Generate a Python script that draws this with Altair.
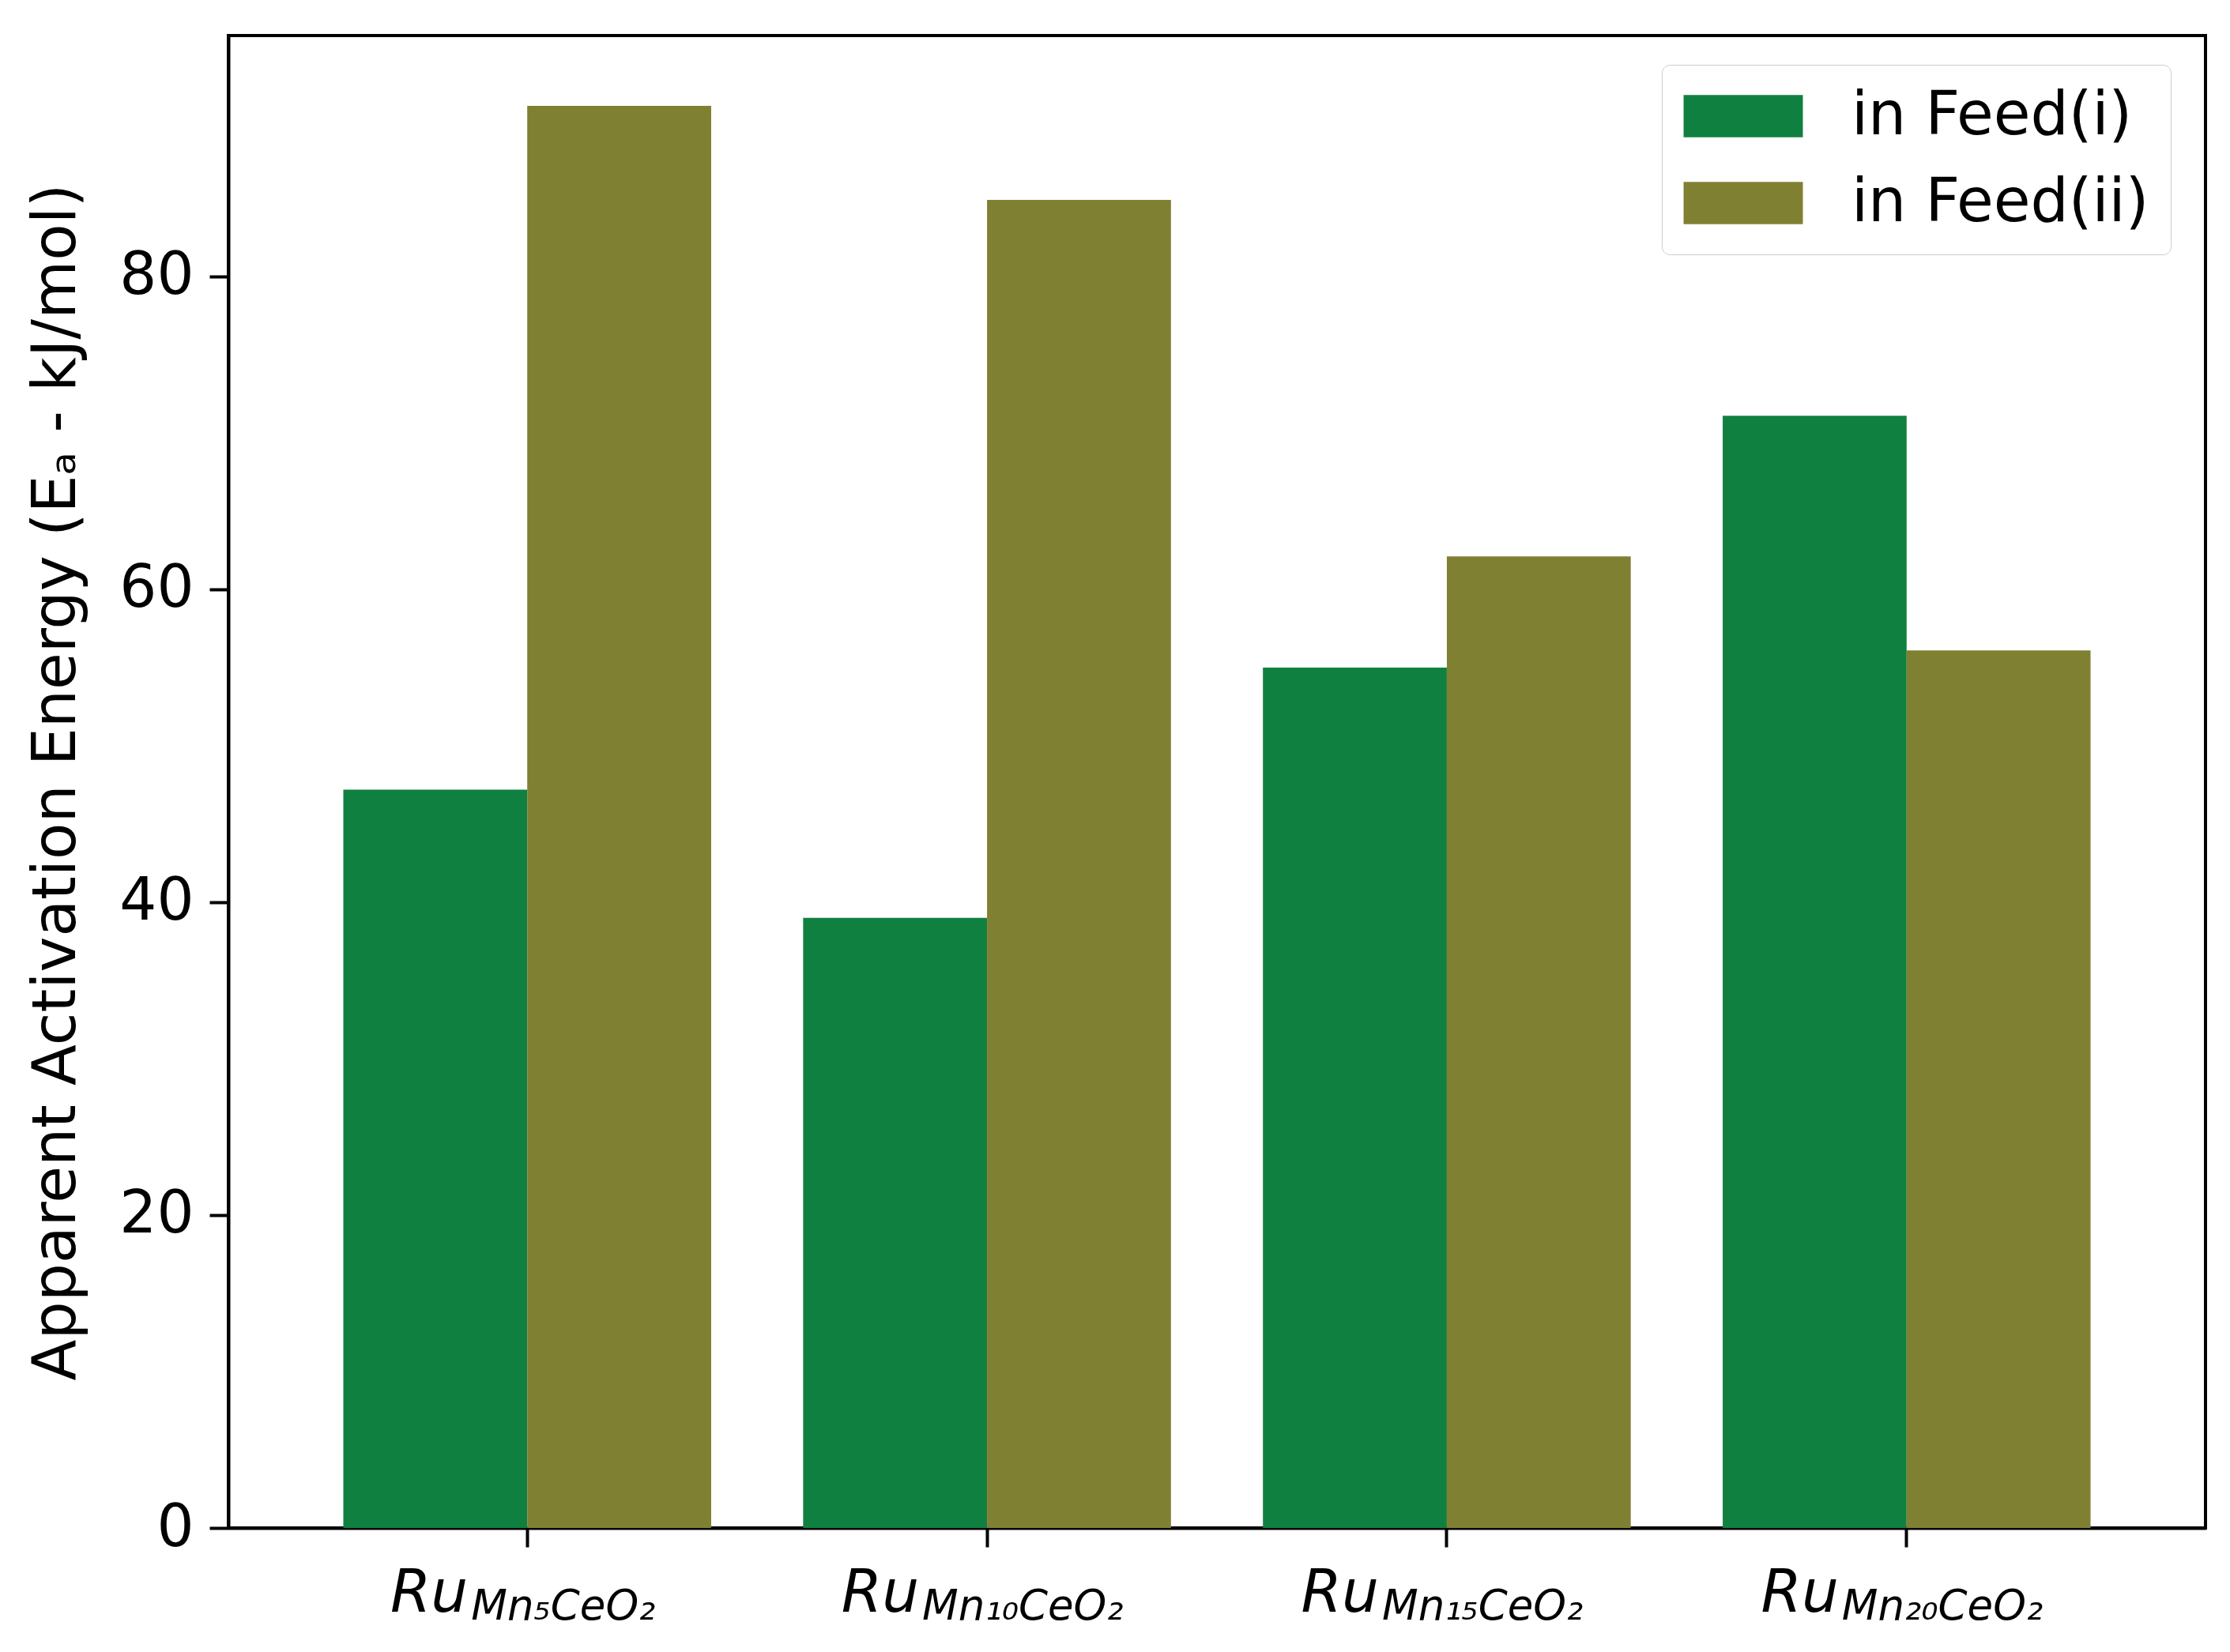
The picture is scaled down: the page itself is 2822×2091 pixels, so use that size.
import altair as alt
import pandas as pd

# ---- data ----
catalysts = ["Mn5", "Mn10", "Mn15", "Mn20"]
label_main = ["Ru", "Ru", "Ru", "Ru"]
label_sub = ["Mn₅CeO₂", "Mn₁₀CeO₂", "Mn₁₅CeO₂", "Mn₂₀CeO₂"]
label_wide = [0, 1, 1, 1]
series = ["in Feed(i)", "in Feed(ii)"]
feed_i = [47.2, 39.0, 55.0, 71.1]
feed_ii = [90.9, 84.9, 62.1, 56.1]
colors = ["#108040", "#808033"]
y_ticks = [0, 20, 40, 60, 80]
y_title = "Apparent Activation Energy (Eₐ - kJ/mol)"

rows = []
for c, a, b in zip(catalysts, feed_i, feed_ii):
    rows.append({"catalyst": c, "series": series[0], "value": a})
    rows.append({"catalyst": c, "series": series[1], "value": b})
df = pd.DataFrame(rows)

lab = pd.DataFrame({"catalyst": catalysts, "ru": label_main,
                    "sub": label_sub, "wide": label_wide})

FONT = "DejaVu Sans"
FS = 74
W, H = 2502, 1889

x_enc = alt.X(
    "catalyst:N",
    sort=catalysts,
    scale=alt.Scale(paddingInner=0.2, paddingOuter=0.25),
    axis=alt.Axis(labels=False, title=None, ticks=True, tickSize=24,
                  tickWidth=4, tickColor="black", domainColor="black",
                  domainWidth=4),
)

bars = alt.Chart(df).mark_bar().encode(
    x=x_enc,
    xOffset=alt.XOffset("series:N", sort=series,
                        scale=alt.Scale(paddingInner=0, paddingOuter=0)),
    y=alt.Y(
        "value:Q",
        scale=alt.Scale(domain=[0, 95.4], nice=False, zero=True),
        axis=alt.Axis(
            values=y_ticks, grid=False, title=y_title,
            titleFontSize=76, titleFontWeight="normal", titleColor="black",
            titleFont=FONT, titlePadding=40,
            labelFontSize=FS, labelFont=FONT, labelColor="black",
            labelPadding=20, tickSize=24, tickWidth=4, tickColor="black",
            domainColor="black", domainWidth=4,
        ),
    ),
    color=alt.Color(
        "series:N",
        sort=series,
        scale=alt.Scale(domain=series, range=colors),
        legend=alt.Legend(
            orient="none", legendX=1814, legendY=37, title=None,
            symbolType="M-2.04,-0.72H2.04V0.72H-2.04Z", symbolSize=5476,
            symbolOffset=38, symbolStrokeWidth=0, symbolOpacity=1,
            labelFontSize=76, labelFont=FONT, labelColor="black",
            labelLimit=800, labelOffset=99, rowPadding=34, padding=27,
            strokeColor="#cccccc", fillColor="white",
            cornerRadius=10,
        ),
    ),
)

def label_layers(wide, dx_ru):
    base = alt.Chart(lab).transform_filter(alt.datum.wide == wide)
    ru = base.mark_text(align="right", baseline="alphabetic", dx=dx_ru,
                        fontSize=FS, fontStyle="italic", font=FONT,
                        color="black").encode(
        x=alt.X("catalyst:N", sort=catalysts), y=alt.value(1995), text="ru:N")
    sub = base.mark_text(align="left", baseline="alphabetic", dx=dx_ru + 4,
                         fontSize=53, fontStyle="italic", font=FONT,
                         color="black").encode(
        x=alt.X("catalyst:N", sort=catalysts), y=alt.value(2005), text="sub:N")
    return [ru, sub]

layers = [bars] + label_layers(0, -75) + label_layers(1, -86)

chart = alt.layer(*layers).properties(
    width=W, height=H,
    autosize=alt.AutoSizeParams(type="none"),
    padding={"left": 281, "top": 37, "right": 20, "bottom": 140},
).configure(
    font=FONT
).configure_view(
    stroke="black", strokeWidth=4
)

chart.save("out.html", embed_options={"renderer": "svg", "actions": False})
